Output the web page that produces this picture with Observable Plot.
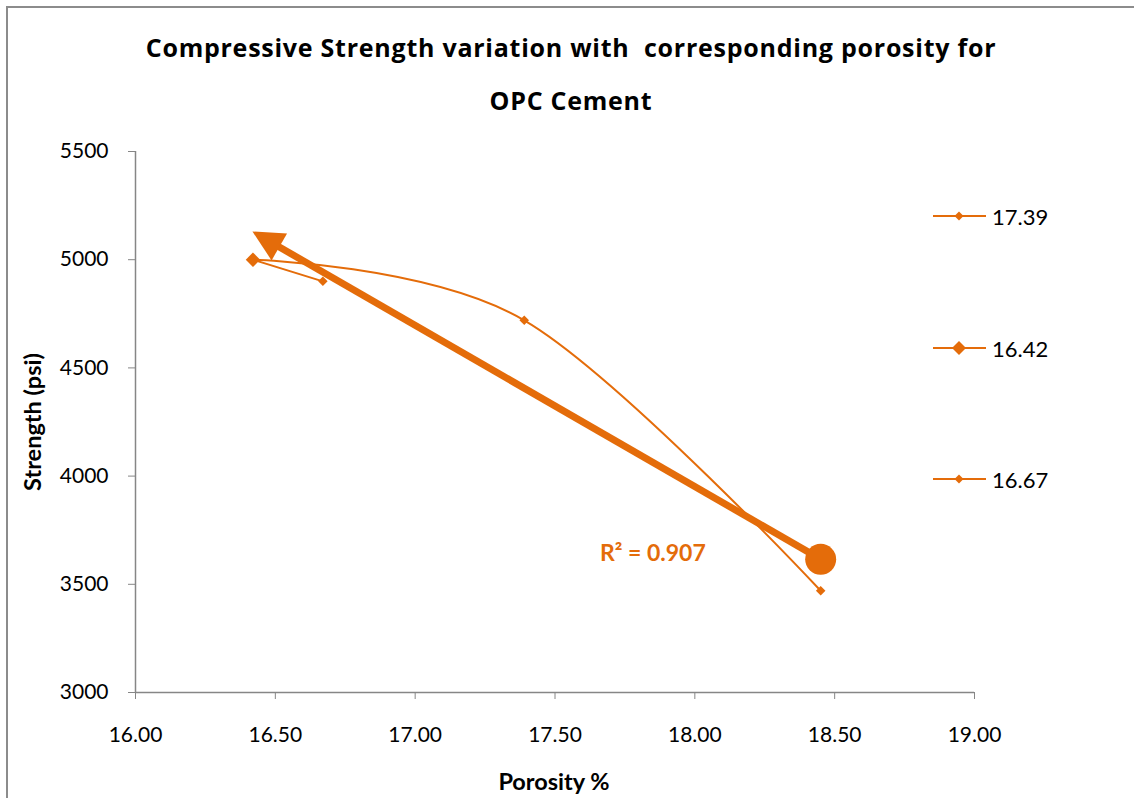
<!DOCTYPE html>
<html><head><meta charset="utf-8">
<script src="https://cdn.jsdelivr.net/npm/d3@7"></script>
<script src="https://cdn.jsdelivr.net/npm/@observablehq/plot@0.6"></script>
<style>
body{margin:0;background:#fff;font-family:Lato,"Open Sans",sans-serif;}
#wrap{position:relative;width:1134px;height:798px;overflow:hidden;background:#fff;}
#frame{position:absolute;left:6px;top:6px;width:1300px;height:1000px;border-top:2px solid #8c8c8c;border-left:2px solid #8c8c8c;box-sizing:border-box;}
#title{position:absolute;left:0;top:21px;width:1142px;text-align:center;font-family:"Open Sans",Lato,sans-serif;font-weight:bold;font-size:25px;letter-spacing:0.75px;line-height:53px;color:#000;}
#chart{position:absolute;left:0;top:125px;}
.leg{position:absolute;left:933px;height:20px;display:flex;align-items:center;font-size:22px;color:#000;}
.leg span{margin-left:6px;}
.axlab{position:absolute;font-weight:bold;font-size:23.5px;color:#000;white-space:nowrap;line-height:1;}
#xlab{left:554px;top:782px;transform:translate(-50%,-50%);}
#ylab{left:33px;top:422px;transform:translate(-50%,-50%) rotate(-90deg);}
</style>
</head><body>
<div id="wrap">
  <div id="frame"></div>
  <div id="title"></div>
  <div id="chart"></div>
  <div id="xlab" class="axlab"></div>
  <div id="ylab" class="axlab"></div>
  <div id="legend"></div>
</div>
<script>
// ---- data ----
const porosity = [16.42, 16.67, 17.39, 18.45];
const strength = [5000, 4900, 4720, 3470];
const seriesNames = ["17.39", "16.42", "16.67"];
const seriesMembers = [[0, 2, 3], [0], [0, 1]];
const seriesBigMarker = [false, true, false];
const xTicks = [16, 16.5, 17, 17.5, 18, 18.5, 19];
const yTicks = [3000, 3500, 4000, 4500, 5000, 5500];
const titleLines = ["Compressive Strength variation with  corresponding porosity for", "OPC Cement"];
const xLabel = "Porosity %";
const yLabel = "Strength (psi)";
const r2Label = "R² = 0.907";

const orange = "#E46C0A";
const axisGray = "#868686";

document.getElementById("title").innerHTML = titleLines.map(t => `<div style="white-space:pre">${t}</div>`).join("");
document.getElementById("xlab").textContent = xLabel;
document.getElementById("ylab").textContent = yLabel;

const points = porosity.map((x, i) => ({x, y: strength[i], i}));
const series = seriesNames.map((name, k) => ({
  name, big: seriesBigMarker[k],
  pts: seriesMembers[k].map(i => points[i])
}));

// least-squares linear trendline over all points
const mx = d3.mean(porosity), my = d3.mean(strength);
const sxy = d3.sum(porosity, (x, i) => (x - mx) * (strength[i] - my));
const sxx = d3.sum(porosity, x => (x - mx) ** 2);
const slope = sxy / sxx, icpt = my - slope * mx;
const xmin = d3.min(porosity), xmax = d3.max(porosity);
const trendStart = {x: xmax, y: icpt + slope * xmax};
const trendEnd = {x: xmin, y: icpt + slope * xmin};

function trendArrow(index, scales) {
  const sx = scales.x(trendStart.x), sy = scales.y(trendStart.y);
  const ex = scales.x(trendEnd.x), ey = scales.y(trendEnd.y);
  const L = Math.hypot(ex - sx, ey - sy);
  const ux = (ex - sx) / L, uy = (ey - sy) / L;
  const nx = -uy, ny = ux;
  const headL = 31, headW = 15.5;
  const bx = ex - ux * headL, by = ey - uy * headL;
  const g = d3.create("svg:g");
  g.append("line").attr("x1", sx).attr("y1", sy).attr("x2", bx + ux * 2).attr("y2", by + uy * 2)
    .attr("stroke", orange).attr("stroke-width", 7);
  g.append("path")
    .attr("d", `M${ex},${ey}L${bx + nx * headW},${by + ny * headW}L${bx - nx * headW},${by - ny * headW}Z`)
    .attr("fill", orange);
  return g.node();
}

const marks = [
  Plot.ruleY([3000], {stroke: axisGray, strokeWidth: 1.5}),
  Plot.ruleX([16], {stroke: axisGray, strokeWidth: 1.5}),
  Plot.axisX({ticks: xTicks, tickFormat: d3.format(".2f"), tickSize: 7, tickPadding: 28,
    stroke: axisGray, fill: "#000", label: null}),
  Plot.axisY({ticks: yTicks, tickFormat: d => String(d), tickSize: 7, tickPadding: 20,
    stroke: axisGray, fill: "#000", label: null}),
  ...series.filter(s => s.pts.length > 1).map(s =>
    Plot.line(s.pts, {x: "x", y: "y", curve: s.pts.length > 2 ? "cardinal" : "linear", stroke: orange, strokeWidth: 2})),
  ...series.map(s =>
    Plot.dot(s.pts, {x: "x", y: "y", symbol: "diamond2", fill: orange, stroke: "none", r: s.big ? 6.5 : 4.3})),
  trendArrow,
  Plot.dot([trendStart], {x: "x", y: "y", r: 15.5, fill: orange}),
  Plot.text([r2Label], {x: () => 17.85, y: () => 3640, text: d => d, fill: orange, fontWeight: "bold", fontSize: 23})
];

const chart = Plot.plot({
  width: 1134, height: 673,
  marginLeft: 135, marginRight: 160, marginTop: 26, marginBottom: 106,
  style: {fontFamily: "Lato, 'Open Sans', sans-serif", fontSize: "21px", color: "#000", background: "transparent"},
  x: {domain: [16, 19]},
  y: {domain: [3000, 5500]},
  marks
});
document.getElementById("chart").appendChild(chart);

// legend
const legY = [216, 348, 479];
const leg = document.getElementById("legend");
series.forEach((s, k) => {
  const d = document.createElement("div");
  d.className = "leg";
  d.style.top = (legY[k] - 10) + "px";
  const h = s.big ? 7 : 4.5;
  d.innerHTML = `<svg width="53" height="20"><line x1="0" y1="10" x2="53" y2="10" stroke="${orange}" stroke-width="2"/>` +
    `<path d="M26,${10 - h}L${26 + h},10L26,${10 + h}L${26 - h},10Z" fill="${orange}"/></svg><span>${s.name}</span>`;
  leg.appendChild(d);
});
</script>
</body></html>
